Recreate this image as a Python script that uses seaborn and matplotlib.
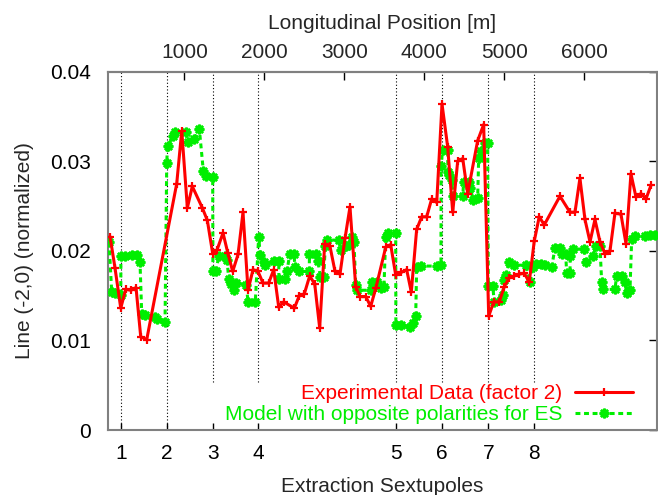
import matplotlib
matplotlib.use("Agg")
import matplotlib.pyplot as plt
import pandas as pd
import seaborn as sns

# Extraction sextupole positions along the ring [m]
sextupole_pos = [203, 778, 1353, 1923, 3650, 4221, 4799, 5375]
sextupole_labels = ["1", "2", "3", "4", "5", "6", "7", "8"]
long_ticks = [1000, 2000, 3000, 4000, 5000, 6000]
y_ticks = [0, 0.01, 0.02, 0.03, 0.04]
y_tick_labels = ["0", "0.01", "0.02", "0.03", "0.04"]

# Measured (-2,0) line amplitude, scaled by a factor 2
exp_s = [69, 131, 203, 265, 331, 394, 453, 528, 903, 966, 1036, 1098, 1223, 1286,
         1353, 1407, 1482, 1541, 1603, 1670, 1732, 1795, 1857, 1920, 1982, 2053,
         2116, 2179, 2241, 2374, 2436, 2499, 2566, 2629, 2691, 2754, 2820, 2883,
         2945, 3008, 3070, 3142, 3195, 3267, 3329, 3392, 3517, 3579, 3642, 3712,
         3779, 3837, 3904, 3967, 4029, 4092, 4155, 4221, 4292, 4355, 4417, 4480,
         4542, 4667, 4742, 4805, 4867, 4937, 5000, 5062, 5125, 5187, 5250, 5312,
         5375, 5437, 5500, 5696, 5822, 5884, 5946, 6009, 6072, 6134, 6197, 6259,
         6322, 6384, 6459, 6522, 6584, 6647, 6709, 6772, 6834]
exp_line = [0.0216, 0.0181, 0.0136, 0.0157, 0.0156, 0.0159, 0.0104, 0.0101, 0.0275,
            0.0334, 0.0248, 0.0272, 0.0248, 0.0234, 0.0197, 0.0201, 0.0220, 0.0198,
            0.0177, 0.0196, 0.0243, 0.0156, 0.0179, 0.0177, 0.0164, 0.0164, 0.0179,
            0.0137, 0.0143, 0.0136, 0.0150, 0.0152, 0.0172, 0.0163, 0.0114, 0.0208,
            0.0205, 0.0177, 0.0174, 0.0214, 0.0249, 0.0160, 0.0149, 0.0149, 0.0138,
            0.0158, 0.0204, 0.0207, 0.0173, 0.0176, 0.0179, 0.0154, 0.0224, 0.0238,
            0.0238, 0.0258, 0.0254, 0.0364, 0.0316, 0.0243, 0.0300, 0.0303, 0.0264,
            0.0323, 0.0341, 0.0127, 0.0143, 0.0143, 0.0160, 0.0170, 0.0172, 0.0174,
            0.0175, 0.0165, 0.0211, 0.0238, 0.0229, 0.0261, 0.0243, 0.0243, 0.0281,
            0.0235, 0.0210, 0.0235, 0.0210, 0.0197, 0.0200, 0.0242, 0.0241, 0.0208,
            0.0286, 0.0260, 0.0264, 0.0258, 0.0273]

# Model prediction with opposite polarities for the extraction sextupoles
model_s = [56, 90, 131, 203, 205, 256, 340, 403, 444, 465, 506, 631, 660, 757, 778,
           788, 860, 882, 1019, 1040, 1123, 1186, 1236, 1269, 1353, 1356, 1394, 1428,
           1511, 1532, 1553, 1586, 1623, 1645, 1773, 1795, 1886, 1928, 1948, 1991,
           2011, 2116, 2179, 2181, 2254, 2282, 2316, 2366, 2386, 2436, 2561, 2563,
           2645, 2670, 2699, 2741, 2761, 2783, 2933, 2954, 3016, 3058, 3099, 3120,
           3142, 3162, 3329, 3349, 3412, 3454, 3495, 3517, 3545, 3642, 3644, 3712,
           3821, 3862, 3892, 3904, 3954, 4162, 4208, 4210, 4229, 4292, 4294, 4312,
           4342, 4362, 4480, 4492, 4562, 4575, 4612, 4667, 4680, 4709, 4762, 4792,
           4800, 4855, 4875, 4959, 4980, 5000, 5021, 5062, 5125, 5271, 5325, 5355,
           5396, 5459, 5509, 5593, 5634, 5696, 5717, 5768, 5780, 5822, 5824, 5863,
           6000, 6018, 6113, 6143, 6197, 6218, 6238, 6384, 6405, 6475, 6509, 6530,
           6572, 6593, 6634, 6759, 6822, 6884]
model_line = [0.0210, 0.0154, 0.0153, 0.0151, 0.0194, 0.0194, 0.0195, 0.0195, 0.0187,
              0.0130, 0.0128, 0.0126, 0.0124, 0.0121, 0.0298, 0.0317, 0.0328, 0.0333,
              0.0333, 0.0321, 0.0325, 0.0336, 0.0289, 0.0284, 0.0282, 0.0177, 0.0177,
              0.0194, 0.0194, 0.0190, 0.0169, 0.0163, 0.0156, 0.0164, 0.0162, 0.0143,
              0.0143, 0.0216, 0.0195, 0.0188, 0.0184, 0.0189, 0.0189, 0.0169, 0.0169,
              0.0177, 0.0196, 0.0196, 0.0182, 0.0177, 0.0177, 0.0197, 0.0197, 0.0189,
              0.0171, 0.0171, 0.0205, 0.0212, 0.0212, 0.0201, 0.0205, 0.0207, 0.0216,
              0.0210, 0.0162, 0.0156, 0.0156, 0.0165, 0.0165, 0.0158, 0.0160, 0.0216,
              0.0220, 0.0220, 0.0117, 0.0117, 0.0115, 0.0119, 0.0127, 0.0182, 0.0183,
              0.0183, 0.0184, 0.0295, 0.0313, 0.0313, 0.0288, 0.0285, 0.0279, 0.0261,
              0.0261, 0.0277, 0.0277, 0.0270, 0.0257, 0.0259, 0.0304, 0.0311, 0.0320,
              0.0320, 0.0161, 0.0161, 0.0143, 0.0145, 0.0151, 0.0168, 0.0173, 0.0188,
              0.0184, 0.0184, 0.0165, 0.0182, 0.0185, 0.0185, 0.0184, 0.0182, 0.0203,
              0.0203, 0.0197, 0.0197, 0.0175, 0.0175, 0.0194, 0.0202, 0.0202, 0.0188,
              0.0194, 0.0205, 0.0205, 0.0165, 0.0157, 0.0157, 0.0172, 0.0172, 0.0165,
              0.0153, 0.0156, 0.0213, 0.0217, 0.0217, 0.0218, 0.0218]

exp_df = pd.DataFrame({"s": exp_s, "line": exp_line})
model_df = pd.DataFrame({"s": model_s, "line": model_line})

sns.set_theme(style="white")
plt.rcParams["font.family"] = ["Liberation Sans", "DejaVu Sans"]
FS = 15
RED = "#ff0000"
GREEN = "#00ee00"

fig = plt.figure(figsize=(6.58, 4.95), dpi=100)
ax = fig.add_axes([0.1637, 0.1313, 0.998 - 0.1637, 0.8552 - 0.1313])

# sextupole markers: dotted verticals
line_bottom = [0.0, 0.0, 0.0054, 0.0054, 0.0054, 0.0054, 0.0054, 0.0054]
ax.vlines(sextupole_pos, line_bottom, 0.04, colors="black", linestyles=(0, (1, 2)),
          linewidth=0.8, zorder=1)

sns.lineplot(data=exp_df, x="s", y="line", ax=ax, sort=False, estimator=None,
             color=RED, linewidth=2.2, marker="+", markersize=6,
             markeredgewidth=1.6, markeredgecolor=RED, markerfacecolor=RED,
             label="Experimental Data (factor 2)", zorder=4)
sns.lineplot(data=model_df, x="s", y="line", ax=ax, sort=False, estimator=None,
             color=GREEN, linewidth=2.2, linestyle=(0, (1.6, 1.2)),
             marker=(8, 2, 0), markersize=7, markeredgewidth=1.8,
             markeredgecolor=GREEN, markerfacecolor=GREEN,
             label="Model with opposite polarities for ES", zorder=3)

ax.set_xlim(40, 6906)
ax.set_ylim(0, 0.04)
ax.set_yticks(y_ticks)
ax.set_yticklabels(y_tick_labels, fontsize=FS)
ax.set_xticks(sextupole_pos)
ax.set_xticklabels(sextupole_labels, fontsize=FS)
ax.set_xlabel("Extraction Sextupoles", fontsize=FS, labelpad=10)
ax.set_ylabel("Line (-2,0) (normalized)", fontsize=FS, labelpad=12)

for sp in ax.spines.values():
    sp.set_color("#808080")
    sp.set_linewidth(1.5)
ax.tick_params(axis="both", direction="in", length=6, width=1, color="black",
               pad=10, labelcolor="black")
ax.tick_params(axis="y", right=True, pad=12)
ax.tick_params(axis="x", bottom=True, top=False, length=5)

top = ax.secondary_xaxis("top")
top.set_xticks(long_ticks)
top.set_xticklabels([str(t) for t in long_ticks], fontsize=FS)
top.tick_params(direction="in", length=6, width=1, color="black", pad=7)
top.spines["top"].set_color("#808080")
top.spines["top"].set_linewidth(1.5)
top.set_xlabel("Longitudinal Position [m]", fontsize=FS, labelpad=10)

leg = ax.legend(loc="lower right", bbox_to_anchor=(0.962, 0.143),
                bbox_transform=fig.transFigure, frameon=False, fontsize=FS,
                markerfirst=False, handlelength=2.8, handletextpad=0.6,
                labelspacing=0.1, borderpad=0, borderaxespad=0,
                labelcolor="linecolor")

fig.savefig("out.png", dpi=100, facecolor="white")
